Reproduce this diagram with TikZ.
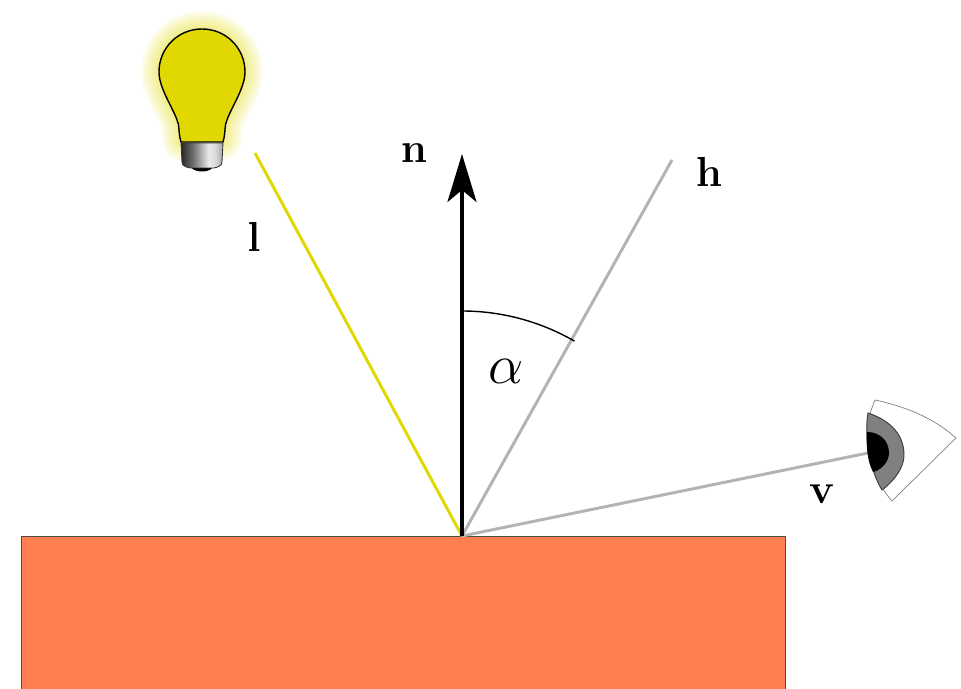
\documentclass[tikz,border=0pt]{standalone}
\usepackage{amsmath,amssymb,bm}
\usepackage{xcolor}
\usetikzlibrary{arrows.meta,calc,positioning}
\definecolor{bulbyellow}{RGB}{224,216,0}
\definecolor{raygray}{RGB}{179,179,179}
\definecolor{slabcoral}{RGB}{255,127,80}
\definecolor{irisgray}{RGB}{128,128,128}
\pgfdeclarehorizontalshading{bulbbase}{100bp}{color(0bp)=(black!85);color(25bp)=(black!85);color(40bp)=(black!55);color(58bp)=(black!8);color(66bp)=(black!15);color(75bp)=(black!35);color(100bp)=(black!35)}
\newcommand{\bulbglass}{(-21,-70) .. controls (-24,-60) and (-22,-54) .. (-25,-48) .. controls (-29,-36) and (-43,-16) .. (-43,0) .. controls (-43,24) and (-24,43) .. (0,43) .. controls (24,43) and (43,24) .. (43,0) .. controls (43,-16) and (29,-36) .. (25,-48) .. controls (22,-54) and (24,-60) .. (21,-70) -- cycle}
\tikzset{
  raylabel/.style={font=\Huge,scale=1.2,inner sep=0pt},
  ray/.style={line width=2.1pt},
}

\begin{document}
\begin{tikzpicture}[x=0.025cm,y=0.025cm]
  \useasboundingbox (-462,-153) rectangle (499,536);
  \coordinate (O) at (0,0);
  \coordinate (nEnd) at (0,382);
  \coordinate (hEnd) at (210,376);
  \coordinate (lEnd) at (-207,383);
  \coordinate (vEnd) at (406,83);
  % surface
  \draw[fill=slabcoral,draw=black!70,line width=0.5pt] (-441,-160) rectangle (323,0);
  % rays
  \draw[ray,bulbyellow] (O) -- (lEnd);
  \draw[ray,raygray] (O) -- (hEnd);
  \draw[ray,raygray] (O) -- (vEnd);
  \draw[line width=2.4pt,black,-{Stealth[length=1.2cm,width=.725cm,inset=.3cm]}] (O) -- (nEnd);
  \draw[line width=1pt] (0,225) arc[start angle=90,end angle=60,radius=225];
  % bulb
  \begin{scope}[shift={(-260,464)}]
    \foreach \w in {2,4,...,26}
      \draw[line width=\w pt,bulbyellow,opacity=.045,line join=round] \bulbglass;
    \fill[white] \bulbglass;
    \draw[fill=bulbyellow,line width=1pt] \bulbglass;
    \fill[black] (-11,-95) .. controls (-8,-101) and (8,-101) .. (11,-95) -- cycle;
    \draw[shading=bulbbase,draw=black!80,line width=0.6pt] (-21,-71) -- (-20,-90) .. controls (-20,-94) and (-16,-95) .. (-12,-96) -- (12,-96) .. controls (16,-95) and (20,-94) .. (20,-90) -- (21,-71) -- cycle;
  \end{scope}
  % eye
  \draw[fill=white,draw=black!50,line width=0.5pt] (413,136) .. controls (450,128) and (475,115) .. (494,98) -- (430,35) .. controls (408,60) and (397,100) .. cycle;
  \draw[fill=irisgray,draw=black!75,line width=0.7pt] (406,123) .. controls (430,115) and (442,100) .. (442,81) .. controls (442,68) and (432,55) .. (420,46) .. controls (408,65) and (402,100) .. cycle;
  \fill[black] (405,104) .. controls (418,104) and (427,95) .. (427,83) .. controls (427,75) and (420,66) .. (411,64) .. controls (405,75) and (404,92) .. cycle;
  % labels
  \node[raylabel] (nLabel) at (-48,383) {$\mathbf{n}$};
  \node[raylabel] (hLabel) at (247,364) {$\mathbf{h}$};
  \node[raylabel] (lLabel) at (-208,299) {$\mathbf{l}$};
  \node[raylabel] (vLabel) at (360,42) {$\mathbf{v}$};
  \node[font=\Huge,scale=1.6,inner sep=0pt] (alphaLabel) at (44,165) {$\alpha$};
\end{tikzpicture}
\end{document}
